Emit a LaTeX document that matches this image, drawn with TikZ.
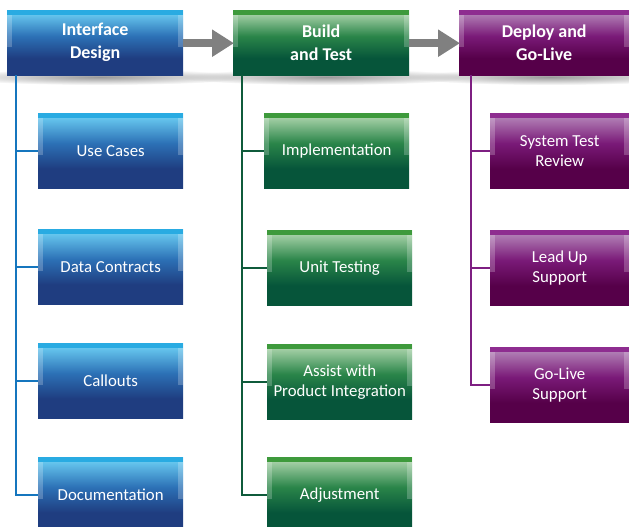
\documentclass[tikz,border=0pt]{standalone}
\usepackage{fontspec}
\setmainfont{Carlito}
\usetikzlibrary{arrows.meta,shadings,fadings}
\definecolor{bS}{HTML}{29ABE2}
\definecolor{bT}{HTML}{66C6EE}
\definecolor{bM}{HTML}{2C71B6}
\definecolor{bB}{HTML}{1F3D80}
\definecolor{bL}{HTML}{1576BE}
\definecolor{gS}{HTML}{3E9A3C}
\definecolor{gT}{HTML}{A3CFA5}
\definecolor{gM}{HTML}{2A8549}
\definecolor{gB}{HTML}{06553A}
\definecolor{gL}{HTML}{0F5B3B}
\definecolor{pS}{HTML}{8E2D90}
\definecolor{pT}{HTML}{B07DB4}
\definecolor{pM}{HTML}{7A1A78}
\definecolor{pB}{HTML}{560049}
\definecolor{pL}{HTML}{7E1F82}
\definecolor{arr}{HTML}{808080}
\pgfdeclareverticalshading{blueshade}{100bp}{color(0bp)=(bB); color(25bp)=(bB); color(38bp)=(bB); color(55bp)=(bM); color(72bp)=(bT); color(100bp)=(bT)}
\pgfdeclareverticalshading{greenshade}{100bp}{color(0bp)=(gB); color(25bp)=(gB); color(38bp)=(gB); color(55bp)=(gM); color(72bp)=(gT); color(100bp)=(gT)}
\pgfdeclareverticalshading{purpleshade}{100bp}{color(0bp)=(pB); color(25bp)=(pB); color(38bp)=(pB); color(55bp)=(pM); color(72bp)=(pT); color(100bp)=(pT)}
\tikzfading[name=shadowfade, inner color=transparent!0, outer color=transparent!100]
\tikzset{
  anybox/.style={rectangle, inner sep=2pt, text=white, align=center, anchor=north west, shade},
  hbox/.style={anybox, minimum height=65pt, font=\bfseries\fontsize{18}{23}\selectfont},
  sbox/.style={anybox, minimum height=75pt, minimum width=145pt, font=\fontsize{16.8}{20}\selectfont},
  edges/.style={path picture={
     \fill[#1] (path picture bounding box.north west) rectangle ([yshift=-5pt]path picture bounding box.north east);
     \fill[white,opacity=0.22] ([yshift=-5pt]path picture bounding box.north west) rectangle ([xshift=5pt,yshift=-4pt]path picture bounding box.west);
     \fill[white,opacity=0.22] ([yshift=-5pt]path picture bounding box.north east) rectangle ([xshift=-5pt,yshift=-4pt]path picture bounding box.east);
  }},
  bluebox/.style={shading=blueshade, edges=bS},
  greenbox/.style={shading=greenshade, edges=gS},
  purplebox/.style={shading=purpleshade, edges=pS},
  conn/.style={line width=2.4pt},
  flow/.style={draw=arr, line width=8pt, -{Triangle[length=22pt,width=26pt]}, shorten >=-1pt},
  shadow/.style={fill=black!40, path fading=shadowfade}
}
\begin{document}
\begin{tikzpicture}[x=1pt,y=-1pt]
\useasboundingbox (0,0) rectangle (629,527);
% shadows under headers
\fill[shadow] (100,77) ellipse [x radius=150, y radius=8];
\fill[shadow] (326,77) ellipse [x radius=150, y radius=8];
\fill[shadow] (550,77) ellipse [x radius=145, y radius=8];
% headers
\node[hbox, bluebox, minimum width=176pt] (h1) at (7,10) {Interface\\Design};
\node[hbox, greenbox, minimum width=176pt] (h2) at (233,10) {Build\\and Test};
\node[hbox, purplebox, minimum width=170pt] (h3) at (459,10) {Deploy and\\Go-Live};
% blue column
\node[sbox, bluebox] (b1) at (38,113) {Use Cases};
\node[sbox, bluebox] (b2) at (38,229) {Data Contracts};
\node[sbox, bluebox] (b3) at (38,343) {Callouts};
\node[sbox, bluebox] (b4) at (38,457) {Documentation};
% green column
\node[sbox, greenbox] (g1) at (264,113) {Implementation};
\node[sbox, greenbox] (g2) at (267,230) {Unit Testing};
\node[sbox, greenbox] (g3) at (267,344) {Assist with\\Product Integration};
\node[sbox, greenbox] (g4) at (267,457) {Adjustment};
% purple column
\node[sbox, purplebox, minimum width=139pt] (p1) at (490,113) {System Test\\Review};
\node[sbox, purplebox, minimum width=139pt] (p2) at (490,230) {Lead Up\\Support};
\node[sbox, purplebox, minimum width=139pt] (p3) at (490,347) {Go-Live\\Support};
% connectors
\draw[conn, bL] ([xshift=9pt]h1.south west) |- (b4.west);
\foreach \n in {b1,b2,b3} \draw[conn, bL] ([xshift=9pt]h1.south west |- \n.west) -- (\n.west);
\draw[conn, gL] ([xshift=9pt]h2.south west) |- (g4.west);
\foreach \n in {g1,g2,g3} \draw[conn, gL] ([xshift=9pt]h2.south west |- \n.west) -- (\n.west);
\draw[conn, pL] ([xshift=12pt]h3.south west) |- (p3.west);
\foreach \n in {p1,p2} \draw[conn, pL] ([xshift=12pt]h3.south west |- \n.west) -- (\n.west);
% flow arrows
\draw[flow] ([yshift=-0.5pt]h1.east) -- ([yshift=-0.5pt]h2.west);
\draw[flow] ([yshift=-0.5pt]h2.east) -- ([yshift=-0.5pt]h3.west);
\end{tikzpicture}
\end{document}
